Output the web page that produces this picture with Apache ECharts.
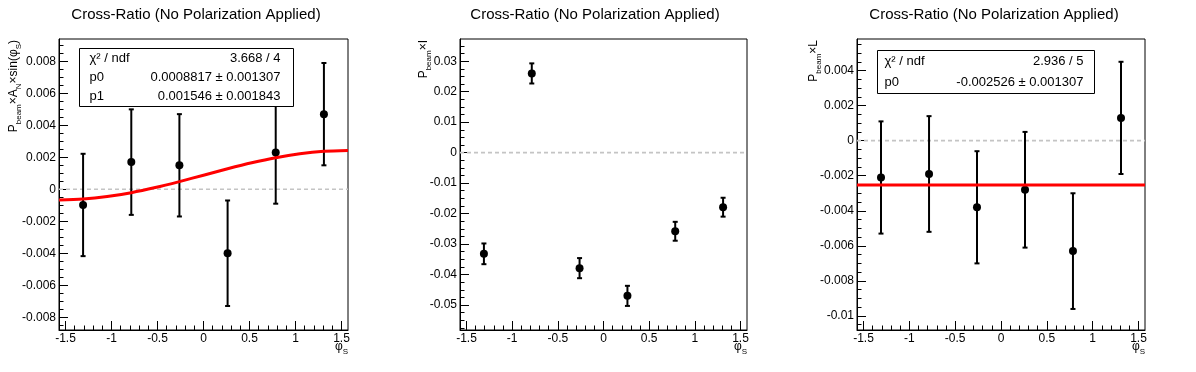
<!DOCTYPE html>
<html>
<head>
<meta charset="utf-8">
<script src="https://cdn.jsdelivr.net/npm/echarts@6/dist/echarts.min.js"></script>
<style>
html,body{margin:0;padding:0;background:#fff;}
#chart{width:1196px;height:372px;}
</style>
</head>
<body>
<div id="chart"></div>
<script>
// ---------- data ----------
const phiBins = [-1.309, -0.785, -0.262, 0.262, 0.785, 1.309];

const anValues = [-0.00098, 0.0017, 0.0015, -0.0040, 0.0023, 0.0047];
const anErrors = [0.0032, 0.0033, 0.0032, 0.0033, 0.0032, 0.0032];

const iValues = [-0.0332, 0.0260, -0.0379, -0.0470, -0.0258, -0.0179];
const iErrors = [0.0034, 0.0033, 0.0033, 0.0033, 0.0031, 0.0031];

const lValues = [-0.0021, -0.0019, -0.0038, -0.0028, -0.0063, 0.0013];
const lErrors = [0.0032, 0.0033, 0.0032, 0.0033, 0.0033, 0.0032];

// fit curves
const anFitX = [-1.5708, -1.309, -1.047, -0.785, -0.524, -0.262, 0, 0.262, 0.524, 0.785, 1.047, 1.309, 1.5708];
const anFitY = [-0.000664, -0.000612, -0.000457, -0.000211, 0.000109, 0.000482, 0.000882, 0.001282, 0.001655, 0.001975, 0.002221, 0.002376, 0.002428];
const lFitX = [-1.5708, 1.5708];
const lFitY = [-0.002526, -0.002526];

// axis ranges and tick labels
const xRange = [-1.5708, 1.5708];
const xTickLabels = [-1.5, -1, -0.5, 0, 0.5, 1, 1.5];
const anYRange = [-0.0088, 0.0094];
const anYTickLabels = [-0.008, -0.006, -0.004, -0.002, 0, 0.002, 0.004, 0.006, 0.008];
const iYRange = [-0.0582, 0.0373];
const iYTickLabels = [-0.05, -0.04, -0.03, -0.02, -0.01, 0, 0.01, 0.02, 0.03];
const lYRange = [-0.0108, 0.0058];
const lYTickLabels = [-0.01, -0.008, -0.006, -0.004, -0.002, 0, 0.002, 0.004];

// texts
const titleText = 'Cross-Ratio (No Polarization Applied)';
const anStats = [['χ² / ndf', '3.668 / 4'], ['p0', '0.0008817 ± 0.001307'], ['p1', '0.001546 ± 0.001843']];
const lStats = [['χ² / ndf', '2.936 / 5'], ['p0', '-0.002526 ± 0.001307']];

// ---------- helpers ----------
const FONT = '"Liberation Sans", Arial, Helvetica, sans-serif';

function minorTicks(min, max, step) {
  const out = [];
  for (let k = Math.ceil(min / step - 1e-9); k * step <= max + 1e-12; k++) {
    out.push(+(k * step).toFixed(6));
  }
  return out;
}

function errRender(params, api) {
  const x = api.value(0), y = api.value(1), e = api.value(2);
  const p = api.coord([x, y]);
  const hi = api.coord([x, y + e]);
  const lo = api.coord([x, y - e]);
  const st = { stroke: '#000', lineWidth: 2 };
  return {
    type: 'group',
    children: [
      { type: 'line', shape: { x1: p[0], y1: hi[1], x2: p[0], y2: lo[1] }, style: st },
      { type: 'line', shape: { x1: p[0] - 2.5, y1: hi[1], x2: p[0] + 2.5, y2: hi[1] }, style: st },
      { type: 'line', shape: { x1: p[0] - 2.5, y1: lo[1], x2: p[0] + 2.5, y2: lo[1] }, style: st },
      { type: 'circle', shape: { cx: p[0], cy: p[1], r: 4 }, style: { fill: '#000' } }
    ]
  };
}

const panels = [
  { grid: { left: 59, top: 39, width: 289, height: 291 }, yRange: anYRange, yTicks: anYTickLabels, yMinorStep: 0.0005,
    values: anValues, errors: anErrors, fitX: anFitX, fitY: anFitY },
  { grid: { left: 460, top: 39, width: 287, height: 291 }, yRange: iYRange, yTicks: iYTickLabels, yMinorStep: 0.0025,
    values: iValues, errors: iErrors, fitX: null, fitY: null },
  { grid: { left: 857, top: 39, width: 288, height: 291 }, yRange: lYRange, yTicks: lYTickLabels, yMinorStep: 0.0005,
    values: lValues, errors: lErrors, fitX: lFitX, fitY: lFitY }
];

const grids = [], xAxes = [], yAxes = [], series = [];
const labelStyle = { color: '#000', fontSize: 12, fontFamily: FONT };

panels.forEach((pn, k) => {
  grids.push(Object.assign({ show: true, borderColor: '#000', borderWidth: 1, backgroundColor: 'transparent' }, pn.grid));
  xAxes.push({
    type: 'value', gridIndex: k, min: xRange[0], max: xRange[1], position: 'bottom',
    axisLine: { show: true, onZero: false, lineStyle: { color: '#000', width: 1 } },
    axisTick: { show: true, inside: true, length: 9, customValues: xTickLabels, lineStyle: { color: '#000', width: 1 } },
    axisLabel: Object.assign({ customValues: xTickLabels, margin: 3, formatter: v => String(v) }, labelStyle),
    splitLine: { show: false }
  });
  xAxes.push({
    type: 'value', gridIndex: k, min: xRange[0], max: xRange[1], position: 'bottom',
    axisLine: { show: false, onZero: false },
    axisTick: { show: true, inside: true, length: 4.5, customValues: minorTicks(-1.5, 1.5, 0.1), lineStyle: { color: '#000', width: 1 } },
    axisLabel: { show: false }, splitLine: { show: false }
  });
  yAxes.push({
    type: 'value', gridIndex: k, min: pn.yRange[0], max: pn.yRange[1], position: 'left',
    axisLine: { show: true, onZero: false, lineStyle: { color: '#000', width: 1 } },
    axisTick: { show: true, inside: true, length: 9, customValues: pn.yTicks, lineStyle: { color: '#000', width: 1 } },
    axisLabel: Object.assign({ customValues: pn.yTicks, margin: 3, formatter: v => String(v) }, labelStyle),
    splitLine: { show: false }
  });
  yAxes.push({
    type: 'value', gridIndex: k, min: pn.yRange[0], max: pn.yRange[1], position: 'left',
    axisLine: { show: false, onZero: false },
    axisTick: { show: true, inside: true, length: 4.5, customValues: minorTicks(pn.yRange[0], pn.yRange[1], pn.yMinorStep), lineStyle: { color: '#000', width: 1 } },
    axisLabel: { show: false }, splitLine: { show: false }
  });

  series.push({
    type: 'line', xAxisIndex: 2 * k, yAxisIndex: 2 * k, z: 1, silent: true, symbol: 'none',
    data: xRange.map(x => [x, 0]),
    lineStyle: { color: '#c4c4c4', width: 1.6, type: [4, 3] }
  });
  series.push({
    type: 'custom', xAxisIndex: 2 * k, yAxisIndex: 2 * k, z: 2, silent: true,
    renderItem: errRender,
    data: phiBins.map((x, i) => [x, pn.values[i], pn.errors[i]])
  });
  if (pn.fitX) {
    series.push({
      type: 'line', xAxisIndex: 2 * k, yAxisIndex: 2 * k, z: 3, silent: true, symbol: 'none',
      smooth: pn.fitX.length > 2 ? 0.3 : false,
      data: pn.fitX.map((x, i) => [x, pn.fitY[i]]),
      lineStyle: { color: '#ff0000', width: 3 }
    });
  }
});

// ---------- text graphics ----------
const mainRich = (size) => ({
  m: { fontSize: size, fontFamily: FONT, lineHeight: size + 2, verticalAlign: 'top', fill: '#000' },
  s: { fontSize: 8, fontFamily: FONT, lineHeight: 8, padding: [7, 0, 0, 0], verticalAlign: 'top', fill: '#000' }
});

const graphics = [];
const titleCenters = [196, 595, 994];
titleCenters.forEach(cx => {
  graphics.push({ type: 'text', x: cx, y: 15, z: 100, style: { text: titleText, fontSize: 15, fontFamily: FONT, fill: '#000', align: 'center', verticalAlign: 'middle' } });
});

const yTitles = [
  { x: 15, text: '{m|P}{s|beam}{m|×A}{s|N}{m|×sin(φ}{s|S}{m|)}' },
  { x: 425, text: '{m|P}{s|beam}{m|×I}' },
  { x: 815, text: '{m|P}{s|beam}{m|×L}' }
];
yTitles.forEach(t => {
  graphics.push({ type: 'text', x: t.x, y: 40, rotation: Math.PI / 2, z: 100,
    style: { text: t.text, rich: mainRich(12), align: 'right', verticalAlign: 'middle' } });
});

[348, 747, 1145].forEach(xr => {
  graphics.push({ type: 'text', x: xr, y: 341, z: 100,
    style: { text: '{m|φ}{s|S}', rich: mainRich(12), align: 'right', verticalAlign: 'top' } });
});

function statsBox(x, y, w, h, rows, padL, padR) {
  const rh = h / rows.length;
  const out = [{ type: 'rect', z: 100, shape: { x: x, y: y, width: w, height: h }, style: { fill: '#fff', stroke: '#000', lineWidth: 1 } }];
  rows.forEach((r, i) => {
    const cy = y + rh * (i + 0.5);
    out.push({ type: 'text', z: 101, x: x + padL, y: cy, style: { text: r[0], fontSize: 13, fontFamily: FONT, fill: '#000', align: 'left', verticalAlign: 'middle' } });
    out.push({ type: 'text', z: 101, x: x + w - padR, y: cy, style: { text: r[1], fontSize: 13, fontFamily: FONT, fill: '#000', align: 'right', verticalAlign: 'middle' } });
  });
  return out;
}
graphics.push(...statsBox(79.5, 48.5, 214, 58, anStats, 10, 13));
graphics.push(...statsBox(877.5, 50.5, 217, 43, lStats, 7, 11));

const chart = echarts.init(document.getElementById('chart'));
chart.setOption({
  animation: false,
  backgroundColor: '#fff',
  grid: grids,
  xAxis: xAxes,
  yAxis: yAxes,
  series: series,
  graphic: { elements: graphics }
});
</script>
</body>
</html>
